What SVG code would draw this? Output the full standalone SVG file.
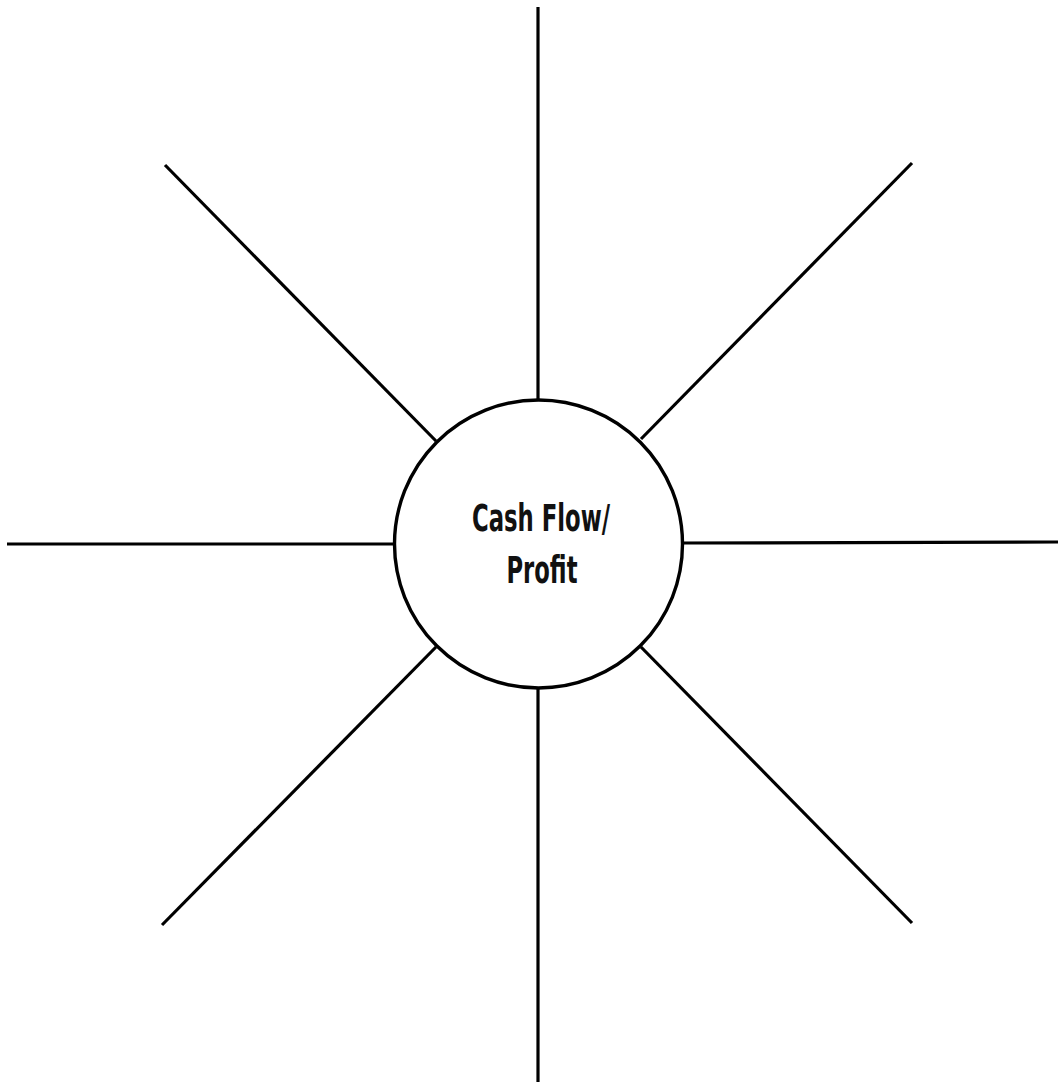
<svg xmlns="http://www.w3.org/2000/svg" width="1058" height="1083" viewBox="0 0 1058 1083">
<style>
.spoke{stroke:#000;stroke-width:3.2;fill:none;stroke-linecap:butt}
.hub{fill:#fff;stroke:#000;stroke-width:3.4}
.lbl{font-family:"Liberation Sans Narrow","DejaVu Sans Condensed","Liberation Sans",sans-serif;font-size:37px;font-weight:bold;fill:#111;text-anchor:middle}
</style>
<rect width="1058" height="1083" fill="#fff"/>
<g id="connectors">
<line class="spoke" x1="538" y1="7" x2="538" y2="399"/>
<line class="spoke" x1="538" y1="689" x2="538" y2="1082"/>
<line class="spoke" x1="7" y1="544" x2="396" y2="544"/>
<line class="spoke" x1="681" y1="543" x2="1058" y2="542"/>
<line class="spoke" x1="165" y1="165" x2="436" y2="441"/>
<line class="spoke" x1="912" y1="163" x2="641" y2="439"/>
<line class="spoke" x1="162" y1="925" x2="436" y2="647"/>
<line class="spoke" x1="912" y1="923" x2="641" y2="647"/>
</g>
<g id="hub">
<circle class="hub" cx="538.5" cy="544" r="144"/>
<text class="lbl" x="541" y="531" textLength="138" lengthAdjust="spacingAndGlyphs">Cash Flow/</text>
<text class="lbl" x="542" y="583" textLength="71" lengthAdjust="spacingAndGlyphs">Profit</text>
</g>
</svg>
